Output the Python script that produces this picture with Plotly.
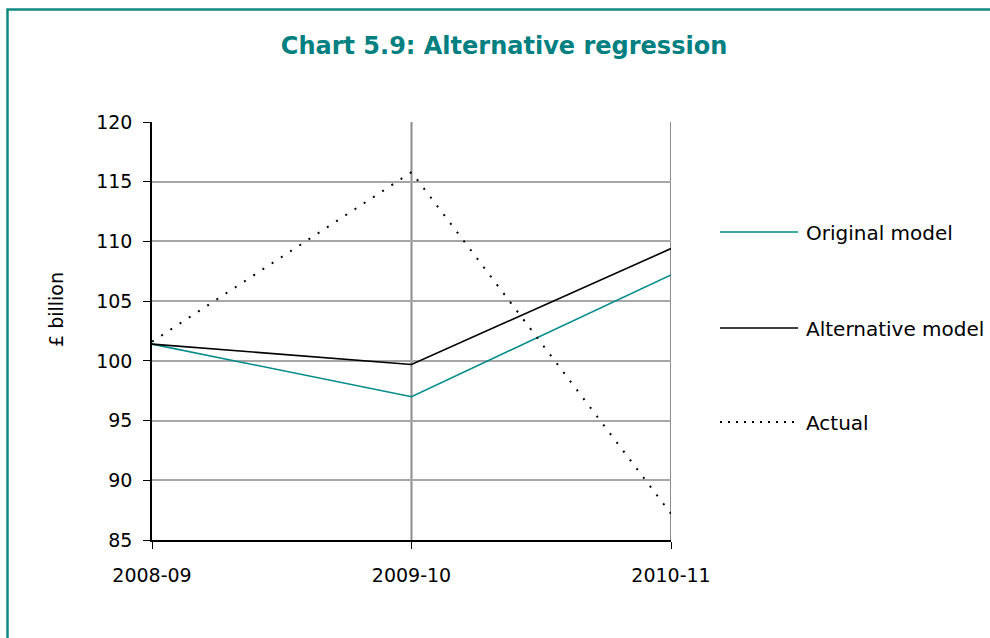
import plotly.graph_objects as go

years = ["2008-09", "2009-10", "2010-11"]
original = [101.4, 97.0, 107.2]
alternative = [101.4, 99.7, 109.4]
actual = [101.6, 115.8, 87.2]
names = ["Original model", "Alternative model", "Actual"]
colors = ["#008B8B", "#000000", "#000000"]
dashes = ["solid", "solid", "2px,9px"]
widths = [1.6, 1.6, 2]
series = [original, alternative, actual]

FONT = "DejaVu Sans"
W, H = 990, 638
L, R, T, B = 152, 671, 122, 540
pw, ph = R - L, B - T

def px(x):
    return (x - L) / pw

def py(y):
    return (B - y) / ph

fig = go.Figure()
for nm, vals, c, d, w in zip(names, series, colors, dashes, widths):
    fig.add_trace(go.Scatter(x=list(range(len(years))), y=vals, mode="lines", name=nm,
                             line=dict(color=c, dash=d, width=w), showlegend=False,
                             hoverinfo="skip"))

shapes = []
annotations = []
for i in [1, 2]:
    shapes.append(dict(type="line", xref="x", yref="paper", x0=i, x1=i, y0=0, y1=1,
                       line=dict(color="#8c8c8c", width=2), layer="below"))
leg_y = [232, 328, 422]
for nm, c, d, w, yy in zip(names, colors, dashes, widths, leg_y):
    shapes.append(dict(type="line", xref="paper", yref="paper", x0=px(720), x1=px(798),
                       y0=py(yy), y1=py(yy), line=dict(color=c, dash=("2px,6px" if d != "solid" else d), width=w)))
    annotations.append(dict(xref="paper", yref="paper", x=px(804), y=py(yy + 1), text=nm,
                            showarrow=False, xanchor="left", yanchor="middle",
                            font=dict(family=FONT, size=20, color="#000")))
annotations.append(dict(xref="paper", yref="paper", x=px(56), y=py(310), text="£ billion",
                        textangle=-90, showarrow=False, xanchor="center", yanchor="middle",
                        font=dict(family=FONT, size=19, color="#000")))
shapes.append(dict(type="rect", xref="paper", yref="paper", x0=px(7.5), x1=px(1000),
                   y0=py(650), y1=py(9.5), line=dict(color="#0E8A80", width=2.5)))

fig.update_layout(
    width=W, height=H,
    margin=dict(l=L, r=W - R, t=T, b=H - B, pad=0),
    paper_bgcolor="white", plot_bgcolor="white",
    title=dict(text="<b>Chart 5.9: Alternative regression</b>", x=504 / W, xanchor="center",
               y=1 - 46 / H, yanchor="middle",
               font=dict(family=FONT, size=24, color="#008080")),
    xaxis=dict(range=[0, 2], tickmode="array", tickvals=list(range(len(years))), ticktext=years,
               showgrid=False, zeroline=False, showline=True, linecolor="black", linewidth=1.5,
               ticks="outside", ticklen=7, tickcolor="black", ticklabelstandoff=10,
               tickfont=dict(family=FONT, size=19, color="#000")),
    yaxis=dict(range=[85, 120], dtick=5, showgrid=True, gridcolor="#a6a6a6", gridwidth=2,
               zeroline=False, showline=True, linecolor="black", linewidth=1.5,
               ticks="outside", ticklen=7, tickcolor="black", ticklabelstandoff=7,
               tickfont=dict(family=FONT, size=19, color="#000")),
    shapes=shapes, annotations=annotations,
)
fig.write_html("out.html", post_script="document.body.style.margin='0';",
               config={"displayModeBar": False})
